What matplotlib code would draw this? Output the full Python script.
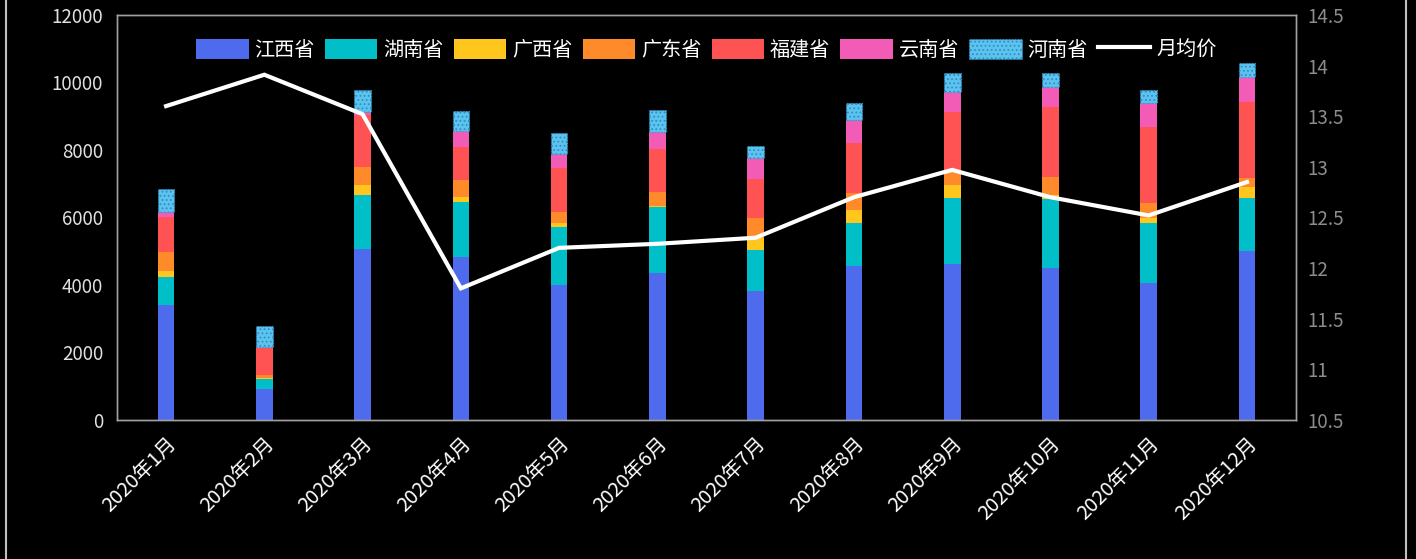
import numpy as np
import matplotlib.pyplot as plt
from matplotlib.patches import Rectangle

plt.rcParams['font.family'] = ['Noto Sans CJK SC', 'DejaVu Sans']
plt.rcParams['hatch.color'] = '#2F8FC8'
plt.rcParams['hatch.linewidth'] = 0.8

# 月份与各省数据（从图中读取，近似值）
months = ['2020年1月', '2020年2月', '2020年3月', '2020年4月', '2020年5月', '2020年6月',
          '2020年7月', '2020年8月', '2020年9月', '2020年10月', '2020年11月', '2020年12月']
provinces = ['江西省', '湖南省', '广西省', '广东省', '福建省', '云南省', '河南省']
jiangxi = [3407, 909, 5057, 4840, 4000, 4346, 3822, 4573, 4613, 4494, 4069, 5007]
hunan = [838, 296, 1610, 1629, 1728, 1955, 1215, 1274, 1955, 2045, 1758, 1561]
guangxi = [180, 40, 296, 148, 99, 40, 346, 375, 395, 128, 148, 346]
guangdong = [562, 90, 524, 494, 346, 424, 592, 494, 444, 543, 445, 246]
fujian = [1026, 790, 1540, 988, 1307, 1255, 1156, 1501, 1729, 2074, 2252, 2272]
yunnan = [150, 30, 100, 474, 410, 523, 622, 672, 592, 592, 711, 741]
henan = [672, 623, 652, 592, 623, 642, 366, 513, 563, 415, 395, 395]
price = [13.60, 13.91, 13.52, 11.80, 12.20, 12.24, 12.30, 12.70, 12.97, 12.70, 12.52, 12.85]

colors = ['#4F6BED', '#00BFC8', '#FFC61E', '#FF8A2A', '#FF5252', '#F25CB6', '#5CC3EE']
series = [jiangxi, hunan, guangxi, guangdong, fujian, yunnan, henan]

fig = plt.figure(figsize=(14.16, 5.59), dpi=100, facecolor='black')
ax = fig.add_axes([0.0826, 0.2487, 0.8327, 0.7245], facecolor='black')
ax2 = ax.twinx()

x = np.arange(len(months))
bottom = np.zeros(len(months))
handles = []
for name, vals, c in zip(provinces, series, colors):
    if name == '河南省':
        b = ax.bar(x, vals, 0.17, bottom=bottom, color=c, hatch='....',
                   edgecolor='#2F8FC8', linewidth=0.8, linestyle=':', label=name)
    else:
        b = ax.bar(x, vals, 0.17, bottom=bottom, color=c, linewidth=0, label=name)
    handles.append(b)
    bottom += np.array(vals)

ln, = ax2.plot(x, price, color='white', lw=3, label='月均价', solid_joinstyle='miter')
handles.append(ln)

ax.set_xlim(-0.5, 11.5)
ax.set_ylim(0, 12000)
ax.set_yticks(range(0, 12001, 2000))
ax2.set_ylim(10.5, 14.5)
ax2.set_yticks(np.arange(10.5, 14.51, 0.5))
ax2.set_yticklabels(['10.5', '11', '11.5', '12', '12.5', '13', '13.5', '14', '14.5'])

ax.set_xticks(x)
ax.set_xticklabels(months, rotation=45, ha='right', rotation_mode='anchor')
ax.tick_params(axis='x', colors='white', labelsize=14.5, length=0, pad=10)
ax.tick_params(axis='y', colors='#E0E0E0', labelsize=13.5, length=0, pad=10)
ax2.tick_params(axis='y', colors='#8C8C8C', labelsize=13.5, length=0, pad=8)

for a in (ax, ax2):
    for s in a.spines.values():
        s.set_color('#A0A0A0')
        s.set_linewidth(1)

leg = ax.legend(handles=handles, labels=provinces + ['月均价'], loc='upper center',
                bbox_to_anchor=(0.5, 0.985), ncol=8, frameon=False, fontsize=14.5,
                handlelength=2.6, handleheight=1.1, columnspacing=0.5, handletextpad=0.3,
                labelcolor='white')

# 外框
fig.patches.append(Rectangle((6 / 1416, -0.05), 1400 / 1416, 1.1, transform=fig.transFigure,
                             fill=False, edgecolor='#BFBFBF', linewidth=1.5))

fig.savefig('out.png', dpi=100, facecolor='black')
